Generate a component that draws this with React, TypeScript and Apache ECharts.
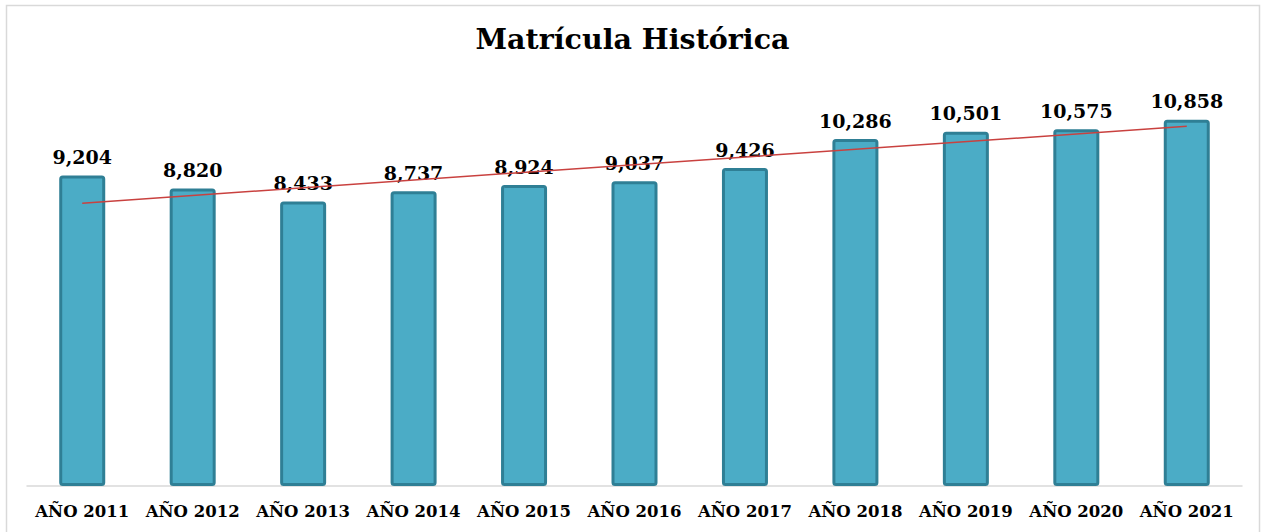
import React, { useEffect, useRef } from "react";
import * as echarts from "echarts";

const categories = [
  "AÑO 2011", "AÑO 2012", "AÑO 2013", "AÑO 2014", "AÑO 2015", "AÑO 2016",
  "AÑO 2017", "AÑO 2018", "AÑO 2019", "AÑO 2020", "AÑO 2021",
];
const enrollment = [9204, 8820, 8433, 8737, 8924, 9037, 9426, 10286, 10501, 10575, 10858];
// trend line endpoints (first and last category)
const trendStart = 8387;
const trendEnd = 10668;
const title = "Matrícula Histórica";

const serif = "'DejaVu Serif', serif";

export default function App() {
  const ref = useRef<HTMLDivElement>(null);
  useEffect(() => {
    if (!ref.current) return;
    const chart = echarts.init(ref.current, null, { renderer: "svg" });
    const trendData = categories.map((_, i) =>
      i === 0 ? trendStart : i === categories.length - 1 ? trendEnd : null
    );
    chart.setOption({
      animation: false,
      backgroundColor: "#ffffff",
      graphic: [
        {
          type: "rect",
          shape: { x: 6.5, y: 5.5, width: 1253, height: 540 },
          style: { fill: "none", stroke: "#D9D9D9", lineWidth: 1.5 },
          silent: true,
          z: -1,
        },
      ],
      title: {
        text: title,
        left: "center",
        top: 19,
        textStyle: { fontFamily: serif, fontWeight: "bold", fontSize: 28.5, color: "#000" },
      },
      grid: { left: 27, right: 23, top: 83, bottom: 46 },
      xAxis: {
        type: "category",
        data: categories,
        axisLine: { lineStyle: { color: "#D9D9D9", width: 1.5 } },
        axisTick: { show: false },
        axisLabel: {
          fontFamily: serif,
          fontWeight: "bold",
          fontSize: 16.5,
          color: "#000",
          margin: 17,
          interval: 0,
        },
      },
      yAxis: {
        type: "value",
        min: 0,
        max: 11950,
        show: false,
        splitLine: { show: false },
      },
      series: [
        {
          type: "bar",
          data: enrollment,
          barWidth: 46,
          itemStyle: {
            color: "#4BACC6",
            borderColor: "#2F7F95",
            borderWidth: 3,
            borderRadius: 2,
          },
          label: {
            show: true,
            position: "top",
            distance: 9,
            fontFamily: serif,
            fontWeight: "bold",
            fontSize: 19,
            color: "#000",
            formatter: (p: any) => Number(p.value).toLocaleString("en-US"),
          },
        },
        {
          type: "line",
          data: trendData,
          connectNulls: true,
          symbol: "none",
          lineStyle: { color: "#C9413F", width: 1.5 },
          z: 5,
        },
      ],
    });
    return () => chart.dispose();
  }, []);
  return (
    <div
      ref={ref}
      style={{ position: "fixed", left: 0, top: 0, width: 1265, height: 532 }}
    />
  );
}
